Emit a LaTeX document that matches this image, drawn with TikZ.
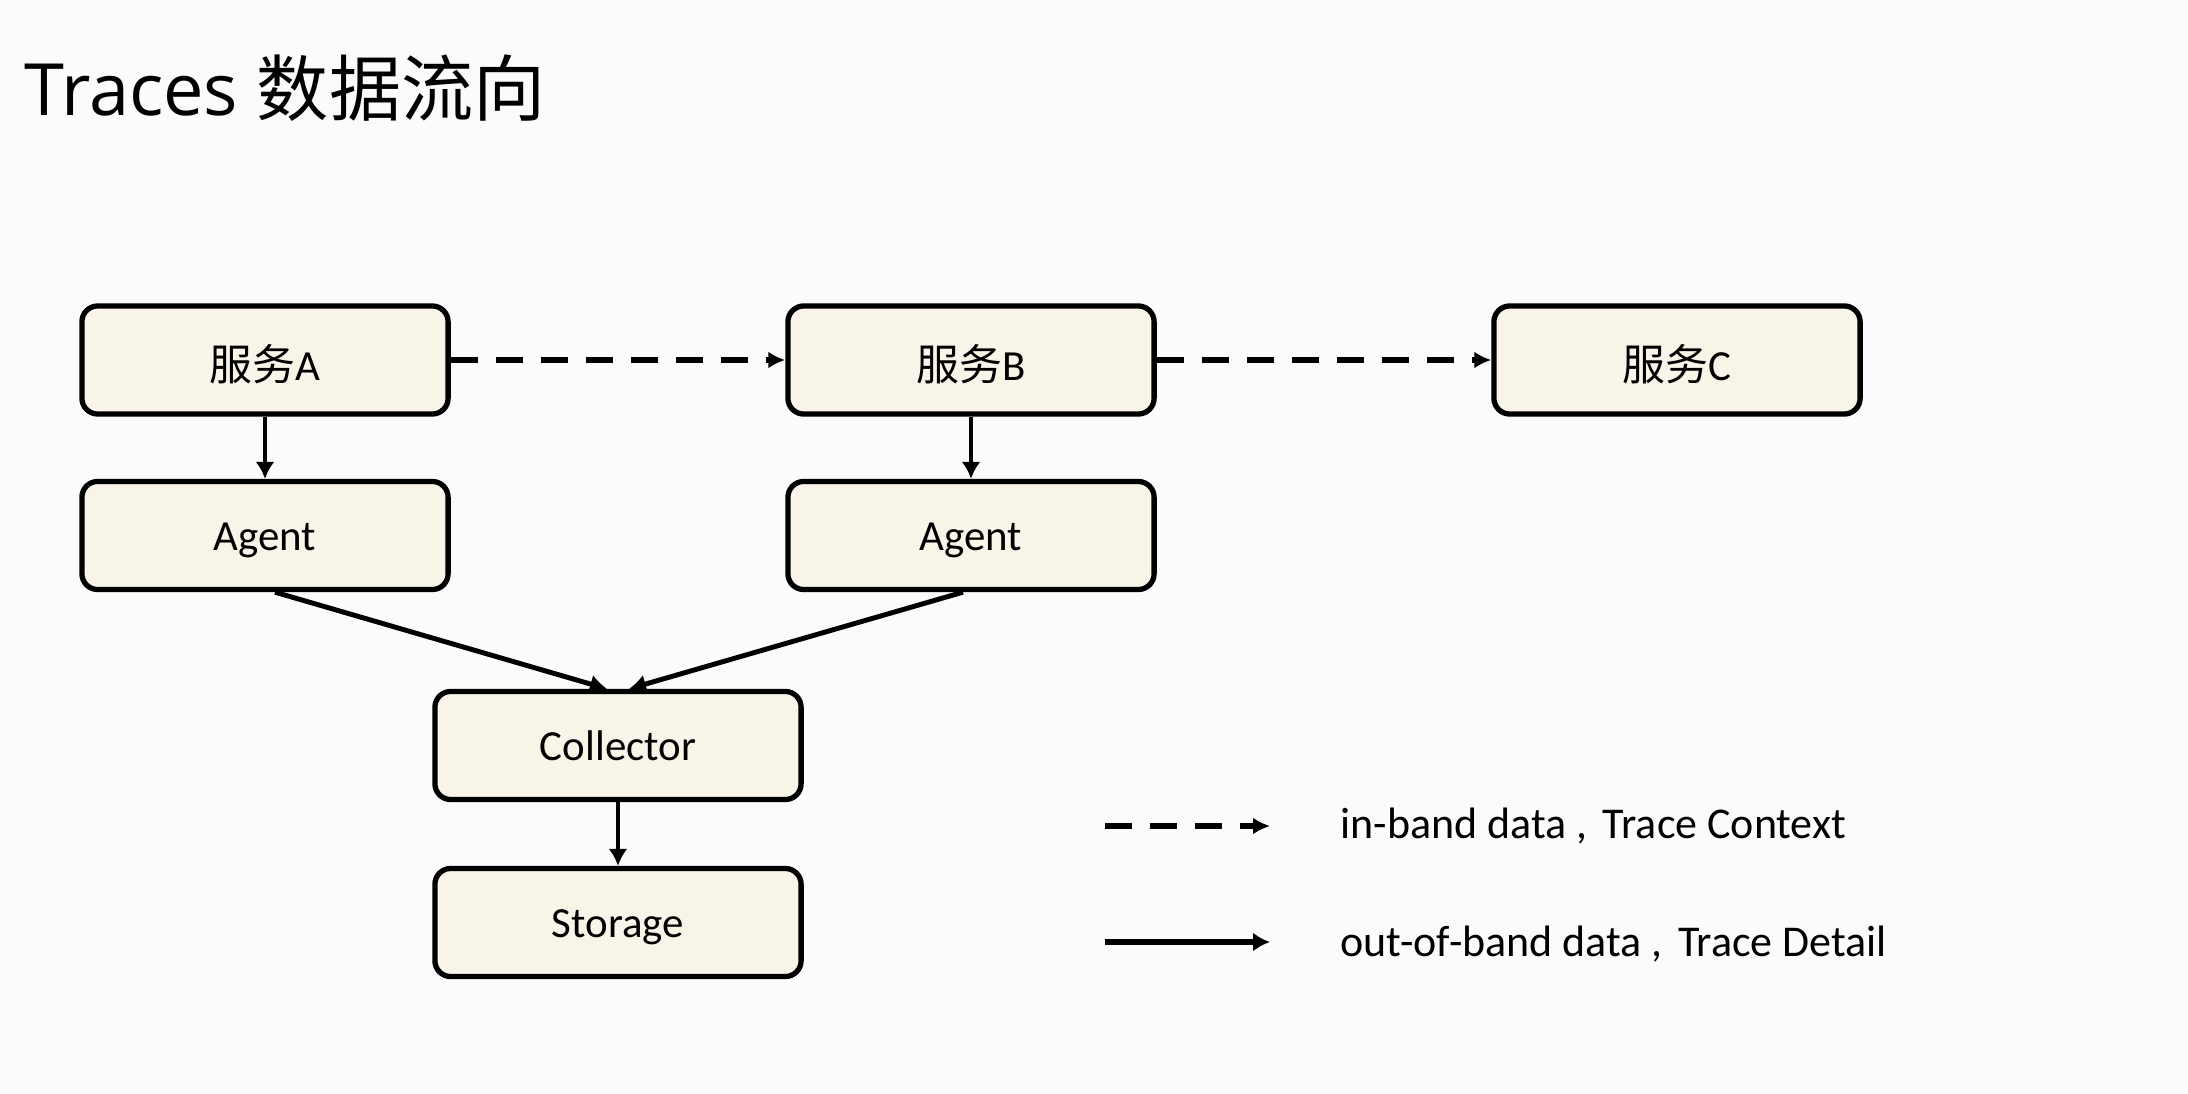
\documentclass[tikz,border=0pt]{standalone}
\usepackage{fontspec}
\setmainfont{Carlito}
\newfontfamily\cjk{Noto Sans CJK SC}
\newfontfamily\titlelat{Open Sans}
\usetikzlibrary{arrows.meta}
\definecolor{bgc}{HTML}{FBFBFD}
\definecolor{boxfill}{HTML}{F8F4E8}
\newcommand{\lowr}[1]{\raisebox{-1.3pt}[\height][\depth]{#1}}
\tikzset{
  box/.style={draw=black, line width=1.5pt, fill=boxfill, rounded corners=4.5pt,
    minimum width=3.66cm, minimum height=1.08cm, inner sep=0pt,
    font=\fontsize{12.2}{14}\selectfont},
  flow/.style={line width=1.4pt, -{Latex[length=0.17cm,width=0.19cm]}},
  ctx/.style={line width=1.5pt, dash pattern=on 0.27cm off 0.18cm, -{Latex[length=0.17cm,width=0.17cm]}},
  lbl/.style={anchor=base west, inner sep=0pt, font=\fontsize{12.5}{14}\selectfont}
}
\begin{document}
\begin{tikzpicture}[x=0.01cm, y=-0.01cm]
\fill[bgc] (0,0) rectangle (2188,1094);
\useasboundingbox (0,0) rectangle (2188,1094);

\node[anchor=base west, inner sep=0pt, font=\fontsize{20.5}{24}\selectfont] (title) at (24,116) {\titlelat Traces {\cjk 数据流向}};

\node[box] (A) at (265,360) {\lowr{{\cjk 服务}A}};
\node[box] (B) at (971,360) {\lowr{{\cjk 服务}B}};
\node[box] (C) at (1677,360) {\lowr{{\cjk 服务}C}};
\node[box] (AgA) at (265,535.5) {\lowr{Agent}};
\node[box] (AgB) at (971,535.5) {\lowr{Agent}};
\node[box] (Col) at (618,745.5) {Collector};
\node[box] (Sto) at (618,922.5) {\lowr{Storage}};

\draw[ctx] (A.east) -- (B.west);
\draw[ctx] (B.east) -- (C.west);
\draw[flow] (A.south) -- (AgA.north);
\draw[flow] (B.south) -- (AgB.north);
\draw[flow] ([xshift=0.1cm]AgA.south) -- ([xshift=-0.11cm]Col.north);
\draw[flow] ([xshift=-0.08cm]AgB.south) -- ([xshift=0.11cm]Col.north);
\draw[flow] (Col.south) -- (Sto.north);

\coordinate (l1s) at (1105,826);
\coordinate (l1e) at (1270,826);
\coordinate (l2s) at (1105,942);
\coordinate (l2e) at (1270,942);
\draw[ctx] (l1s) -- (l1e);
\draw[flow, line width=1.6pt] (l2s) -- (l2e);
\node[lbl] (t1) at (1340,838) {in-band data ,\hspace{0.35em}Trace Context};
\node[lbl] (t2) at (1340,956) {out-of-band data ,\hspace{0.35em}Trace Detail};
\end{tikzpicture}
\end{document}
